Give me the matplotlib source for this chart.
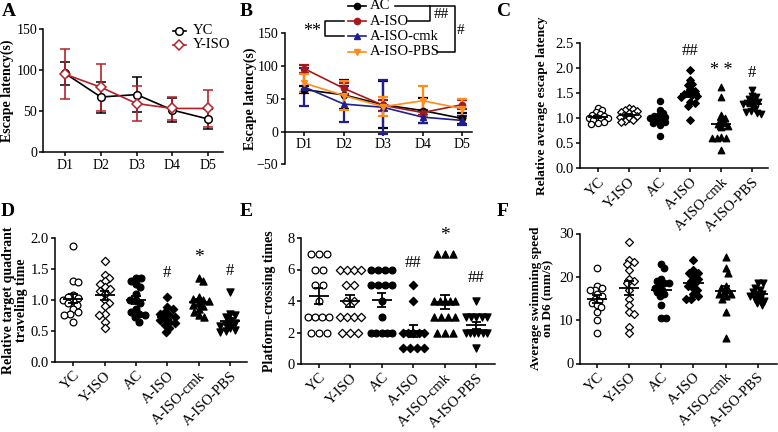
import numpy as np
import matplotlib
matplotlib.use('Agg')
import matplotlib.pyplot as plt
from matplotlib.lines import Line2D

plt.rcParams['font.family'] = ['Liberation Serif', 'DejaVu Serif']
plt.rcParams['axes.linewidth'] = 1.1
plt.rcParams['xtick.major.width'] = 1.1
plt.rcParams['ytick.major.width'] = 1.1
plt.rcParams['xtick.major.size'] = 3.0
plt.rcParams['ytick.major.size'] = 3.0
plt.rcParams['xtick.major.pad'] = 2.0
plt.rcParams['ytick.major.pad'] = 1.5

W, H = 778, 432

# ---------------- data ----------------
days = ['D1', 'D2', 'D3', 'D4', 'D5']

# Panel A
yc_mean = [96, 67, 70, 51, 40]
yc_err = [14, 19, 21, 15, 12]
yiso_mean = [95, 79, 59, 53, 53]
yiso_err = [31, 29, 21, 14, 23]

# Panel B
ac_mean = [64, 56, 41, 32, 20]
ac_err = [5, 22, 36, 19, 9]
aiso_mean = [96, 66, 40, 29, 41]
aiso_err = [6, 8, 8, 4, 7]
cmk_mean = [68, 42, 37, 22, 17]
cmk_err = [29, 28, 41, 9, 7]
pbs_mean = [74, 55, 38, 47, 35]
pbs_err = [14, 22, 15, 23, 15]

groups = ['YC', 'Y-ISO', 'AC', 'A-ISO', 'A-ISO-cmk', 'A-ISO-PBS']

# Panel C: relative average escape latency
c_yc = [1.20, 1.16, 1.12, 1.08, 1.06, 1.04, 1.02, 1.00, 1.00, 0.98, 0.96, 0.93, 0.90, 0.88]
c_yiso = [1.20, 1.18, 1.16, 1.14, 1.12, 1.10, 1.09, 1.07, 1.05, 1.03, 1.00, 0.96, 0.95, 0.93]
c_ac = [1.34, 1.16, 1.10, 1.06, 1.04, 1.02, 1.00, 0.98, 0.96, 0.93, 0.90, 0.86, 0.64]
c_aiso = [1.96, 1.76, 1.68, 1.66, 1.58, 1.55, 1.50, 1.48, 1.46, 1.44, 1.42, 1.33, 1.30, 1.25, 0.96]
c_cmk = [1.63, 1.42, 1.06, 1.00, 0.95, 0.90, 0.88, 0.85, 0.82, 0.62, 0.60, 0.60, 0.60, 0.37]
c_pbs = [1.56, 1.45, 1.42, 1.38, 1.35, 1.32, 1.30, 1.28, 1.25, 1.18, 1.15, 1.12, 1.10, 1.08]

# Panel D: relative target quadrant traveling time
d_yc = [1.86, 1.31, 1.28, 1.08, 1.05, 1.03, 1.00, 0.98, 0.95, 0.92, 0.85, 0.80, 0.78, 0.76, 0.64]
d_yiso = [1.62, 1.40, 1.35, 1.30, 1.25, 1.20, 1.18, 1.15, 1.10, 1.00, 0.95, 0.90, 0.78, 0.75, 0.65, 0.55]
d_ac = [1.35, 1.35, 1.30, 1.25, 1.20, 1.10, 1.00, 1.00, 0.95, 0.85, 0.80, 0.78, 0.75, 0.72, 0.65]
d_aiso = [1.05, 0.88, 0.85, 0.80, 0.78, 0.75, 0.72, 0.70, 0.68, 0.65, 0.62, 0.60, 0.55, 0.48]
d_cmk = [1.35, 1.30, 1.05, 1.02, 1.00, 0.98, 0.95, 0.92, 0.90, 0.85, 0.80, 0.75, 0.72]
d_pbs = [1.13, 0.78, 0.75, 0.72, 0.65, 0.62, 0.60, 0.58, 0.55, 0.52, 0.50, 0.48]

# Panel E: platform-crossing times
e_yc = [7, 7, 7, 6, 6, 5, 5, 4, 3, 3, 3, 3, 2, 2, 2]
e_yiso = [6, 6, 6, 6, 5, 5, 4, 4, 3, 3, 3, 3, 2, 2, 2]
e_ac = [6, 6, 6, 6, 5, 5, 5, 5, 4, 3, 2, 2, 2, 2, 2]
e_aiso = [5, 4, 2, 2, 2, 2, 2, 1, 1, 1, 1]
e_cmk = [7, 7, 7, 4, 4, 4, 4, 4, 3, 3, 3, 3, 2, 2, 2]
e_pbs = [4, 3, 3, 3, 3, 3, 2, 2, 2, 2, 2, 2, 1]

# Panel F: average swimming speed on D6 (mm/s)
f_yc = [22, 18, 17.5, 17, 17, 16, 15.5, 15, 14.5, 14, 13.5, 13, 12, 10, 7]
f_yiso = [28, 24, 23.5, 23, 21.5, 19.5, 19, 18.5, 17, 15, 13.5, 12, 11.5, 8.5, 7]
f_ac = [23, 22, 19.5, 19, 18.5, 18.5, 18, 17.5, 17, 16.5, 16, 15.5, 13.5, 10.5, 10.5]
f_aiso = [24, 21.5, 21, 21, 20, 19.5, 19, 18.5, 18, 17.5, 17, 16, 15.5, 15, 15]
f_cmk = [24.5, 22, 21, 18, 17.5, 17, 16.5, 16, 16, 15.5, 15, 12, 6]
f_pbs = [18.5, 18.5, 17.5, 17, 16.5, 16, 16, 15.5, 15, 15, 14.5, 14, 13.5]

# ---------------- helpers ----------------
fig = plt.figure(figsize=(W / 100, H / 100), dpi=100)


def add_ax(l, r, t, b):
    return fig.add_axes([l / W, 1 - b / H, (r - l) / W, (b - t) / H])


def swarm_offsets(vals, ypx, xpx, d):
    vals = np.asarray(vals, float)
    ys = vals * ypx
    order = np.argsort(-ys, kind='stable')
    xs = np.zeros(len(vals))
    placed = []
    npos = nneg = 0
    for i in order:
        y = ys[i]
        forb = []
        for j in placed:
            dy = abs(ys[j] - y)
            if dy < d:
                dx = np.sqrt(d * d - dy * dy)
                forb.append((xs[j] - dx, xs[j] + dx))
        cands = [0.0] + [a for a, b in forb] + [b for a, b in forb]
        valid = [c for c in cands if all(not (a + 1e-6 < c < b - 1e-6) for a, b in forb)]
        pref_pos = npos <= nneg
        best = min(valid, key=lambda c: (round(abs(c), 4), (c < 0) if pref_pos else (c > 0)))
        xs[i] = best
        if best > 1e-6:
            npos += 1
        elif best < -1e-6:
            nneg += 1
        placed.append(i)
    return xs / xpx


def row_offsets(vals, xpx, spacing=8.0, maxw=21.0):
    vals = np.asarray(vals, float)
    off = np.zeros(len(vals))
    for v in np.unique(vals):
        idx = np.where(vals == v)[0]
        n = len(idx)
        if n > 1:
            sp = min(spacing, maxw / (n - 1))
            off[idx] = (np.arange(n) - (n - 1) / 2) * sp
    return off / xpx


styles = [
    dict(marker='o', facecolor='white'),
    dict(marker='D', facecolor='white'),
    dict(marker='o', facecolor='black'),
    dict(marker='D', facecolor='black'),
    dict(marker='^', facecolor='black'),
    dict(marker='v', facecolor='black'),
]
size_scale = {'o': 1.0, 'D': 0.75, '^': 1.1, 'v': 1.1}


def dot_panel(ax, data, ypx, xpx, d=6.0, s=24, rows=False):
    for k, vals in enumerate(data):
        if rows:
            off = row_offsets(vals, xpx)
        else:
            off = swarm_offsets(vals, ypx, xpx, d)
        st = styles[k]
        ax.scatter(k + off, vals, marker=st['marker'], s=s * size_scale[st['marker']],
                   facecolor=st['facecolor'], edgecolor='black', linewidths=0.9,
                   zorder=3, clip_on=False)
        m = np.mean(vals)
        se = np.std(vals, ddof=1) / np.sqrt(len(vals))
        ax.hlines(m, k - 0.32, k + 0.32, color='black', lw=1.3, zorder=4)
        ax.vlines(k, m - se, m + se, color='black', lw=1.3, zorder=4)
        ax.hlines([m - se, m + se], k - 0.15, k + 0.15, color='black', lw=1.3, zorder=4)
    ax.set_xticks(range(6))
    ax.set_xticklabels(groups, rotation=45, ha='right', rotation_mode='anchor')
    for sp in ['top', 'right']:
        ax.spines[sp].set_visible(False)
    ax.tick_params(direction='out')


def place_ylabel(ax, right_px, l, r):
    ax.yaxis.set_label_coords((right_px - l) / (r - l), 0.5)


# ---------------- Panel A ----------------
axA = add_ax(43.3, 223, 29.3, 151.7)
x = np.arange(5)
axA.errorbar(x, yc_mean, yerr=yc_err, color='black', marker='o', mfc='white', mec='black',
             ms=5.5, mew=1.1, lw=1.2, capsize=3.5, elinewidth=1.2, capthick=1.2, zorder=3, clip_on=False)
axA.errorbar(x, yiso_mean, yerr=yiso_err, color='#B8202A', marker='D', mfc='white', mec='#B8202A',
             ms=5, mew=1.1, lw=1.2, capsize=3.5, elinewidth=1.2, capthick=1.2, zorder=3, clip_on=False)
axA.set_xlim(-0.606, 4.41)
axA.set_ylim(0, 150)
axA.set_yticks([0, 50, 100, 150])
axA.set_xticks(x)
axA.set_xticklabels(days)
axA.tick_params(labelsize=10)
for s in ['top', 'right']:
    axA.spines[s].set_visible(False)
axA.set_ylabel('Escape latency(s)', fontsize=10, fontweight='bold')
place_ylabel(axA, 14.5, 43.3, 223)

# ---------------- Panel B ----------------
axB = add_ax(284.7, 472, 33.3, 164.3)
bcols = ['black', '#A5191E', '#1F1F8F', '#FF8C1A']
bmk = ['o', 'o', '^', 'v']
for mean, err, c, mk in zip([ac_mean, aiso_mean, cmk_mean, pbs_mean],
                            [ac_err, aiso_err, cmk_err, pbs_err], bcols, bmk):
    axB.errorbar(x, mean, yerr=err, color=c, marker=mk, ms=4.5, mfc=c, mec=c, lw=1.2,
                 capsize=3.5, elinewidth=1.6, capthick=1.6, zorder=3, clip_on=False)
axB.set_xlim(-0.496, 4.25)
axB.set_ylim(-50, 150)
axB.set_yticks([-50, 0, 50, 100, 150])
axB.set_xticks(x)
axB.set_xticklabels(days)
axB.spines['bottom'].set_position(('data', 0))
for s in ['top', 'right']:
    axB.spines[s].set_visible(False)
axB.tick_params(labelsize=10)
axB.set_ylabel('Escape latency(s)', fontsize=10, fontweight='bold')
place_ylabel(axB, 257, 284.7, 472)

# ---------------- Panel C ----------------
axC = add_ax(580, 768, 43.3, 168.3)
axC.set_xlim(-0.58, 5.52)
axC.set_ylim(0, 2.5)
dot_panel(axC, [c_yc, c_yiso, c_ac, c_aiso, c_cmk, c_pbs], 50.0, 30.8, d=4.5, s=20)
axC.set_yticks([0, 0.5, 1.0, 1.5, 2.0, 2.5])
axC.set_yticklabels(['0.0', '0.5', '1.0', '1.5', '2.0', '2.5'])
axC.tick_params(labelsize=10.5)
axC.set_ylabel('Relative average escape latency', fontsize=9.5, fontweight='bold')
place_ylabel(axC, 548, 580, 768)
axC.text(3, 2.35, '##', ha='center', va='center', fontsize=12)
axC.text(4, 1.95, '* *', ha='center', va='center', fontsize=13)
axC.text(5, 1.9, '#', ha='center', va='center', fontsize=12)

# ---------------- Panel D ----------------
axD = add_ax(55, 247, 237.7, 362)
axD.set_xlim(-0.58, 5.54)
axD.set_ylim(0, 2.0)
dot_panel(axD, [d_yc, d_yiso, d_ac, d_aiso, d_cmk, d_pbs], 62.0, 31.3, d=5.5, s=24)
axD.set_yticks([0, 0.5, 1.0, 1.5, 2.0])
axD.set_yticklabels(['0.0', '0.5', '1.0', '1.5', '2.0'])
axD.tick_params(labelsize=10.5)
axD.set_ylabel('Relative target quadrant\ntraveling time', fontsize=10, fontweight='bold',
               linespacing=1.0)
place_ylabel(axD, 28, 55, 247)
axD.text(3, 1.43, '#', ha='center', va='center', fontsize=12)
axD.text(4, 1.68, '*', ha='center', va='center', fontsize=14)
axD.text(5, 1.46, '#', ha='center', va='center', fontsize=12)

# ---------------- Panel E ----------------
axE = add_ax(301, 495, 238, 364)
axE.set_xlim(-0.56, 5.59)
axE.set_ylim(0, 8)
dot_panel(axE, [e_yc, e_yiso, e_ac, e_aiso, e_cmk, e_pbs], 15.75, 31.5, s=24, rows=True)
axE.set_yticks([0, 2, 4, 6, 8])
axE.tick_params(labelsize=10.5)
axE.set_ylabel('Platform-crossing times', fontsize=10, fontweight='bold')
place_ylabel(axE, 276, 301, 495)
axE.text(3, 6.4, '##', ha='center', va='center', fontsize=12)
axE.text(4, 8.15, '*', ha='center', va='center', fontsize=14)
axE.text(5, 5.45, '##', ha='center', va='center', fontsize=12)

# ---------------- Panel F ----------------
axF = add_ax(580, 777, 233.5, 363.5)
axF.set_xlim(-0.53, 5.6)
axF.set_ylim(0, 30)
dot_panel(axF, [f_yc, f_yiso, f_ac, f_aiso, f_cmk, f_pbs], 4.33, 32.0, d=5.0, s=22)
axF.set_yticks([0, 10, 20, 30])
axF.tick_params(labelsize=10.5)
axF.set_ylabel('Average swimming speed\non D6 (mm/s)', fontsize=9.5, fontweight='bold',
               linespacing=1.0)
place_ylabel(axF, 554, 580, 777)

# ---------------- overlay: legends, brackets, panel letters ----------------
ov = fig.add_axes([0, 0, 1, 1], zorder=10)
ov.set_xlim(0, W)
ov.set_ylim(H, 0)
ov.axis('off')
ov.patch.set_alpha(0)

# legend A
ov.add_line(Line2D([173, 186], [31, 31], color='black', lw=1.2))
ov.plot([179.5], [31], marker='o', ms=5.5, mfc='white', mec='black', mew=1.1)
ov.text(193, 31, 'YC', va='center', ha='left', fontsize=10.5)
ov.add_line(Line2D([173, 186], [45, 45], color='#B8202A', lw=1.2))
ov.plot([179.5], [45], marker='D', ms=5, mfc='white', mec='#B8202A', mew=1.1)
ov.text(193, 45, 'Y-ISO', va='center', ha='left', fontsize=10.5)

# legend B
labsB = ['AC', 'A-ISO', 'A-ISO-cmk', 'A-ISO-PBS']
rowsB = [5.7, 21.3, 36.3, 51.7]
for lab, yy, c, mk in zip(labsB, rowsB, bcols, bmk):
    ov.add_line(Line2D([348, 366], [yy, yy], color=c, lw=1.2))
    ov.plot([357], [yy], marker=mk, ms=4.5, mfc=c, mec=c)
    ov.text(370, yy, lab, va='center', ha='left', fontsize=10.5)

blk = dict(color='black', lw=1.1)
ov.add_line(Line2D([344.5, 324.7, 324.7, 344.5], [21.3, 21.3, 36.3, 36.3], **blk))
ov.text(312, 32, '**', ha='center', va='center', fontsize=13)
ov.add_line(Line2D([395, 455, 455, 437], [5.7, 5.7, 51.7, 51.7], **blk))
ov.add_line(Line2D([430, 430, 408], [5.7, 21.3, 21.3], **blk))
ov.text(441, 15, '##', ha='center', va='center', fontsize=11)
ov.text(461, 31, '#', ha='center', va='center', fontsize=11)

# panel letters
for lab, px, py in [('A', 2, 11), ('B', 240, 11), ('C', 497, 11),
                    ('D', 1, 211), ('E', 240, 211), ('F', 497, 212)]:
    ov.text(px, py, lab, ha='left', va='center', fontsize=14, fontweight='bold')

fig.savefig('out.png', dpi=100)
